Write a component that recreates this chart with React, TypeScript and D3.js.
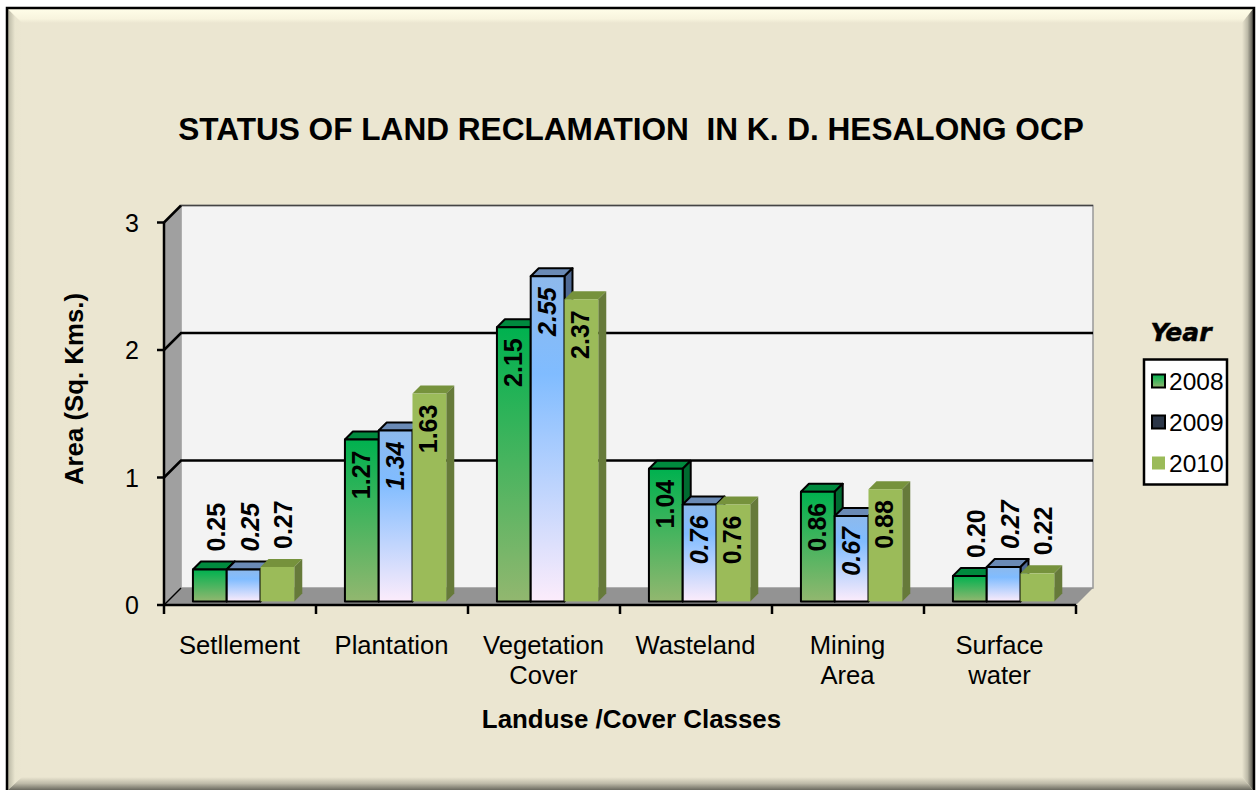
import React from "react";
import * as d3 from "d3";

const categories = [["Setllement"], ["Plantation"], ["Vegetation", "Cover"], ["Wasteland"], ["Mining", "Area"], ["Surface", "water"]];
const years = ["2008", "2009", "2010"];
const v2008 = [0.25, 1.27, 2.15, 1.04, 0.86, 0.2];
const v2009 = [0.25, 1.34, 2.55, 0.76, 0.67, 0.27];
const v2010 = [0.27, 1.63, 2.37, 0.76, 0.88, 0.22];
const seriesValues = [v2008, v2009, v2010];
const yTicks = [0, 1, 2, 3];

const FONT = "'Liberation Sans', Arial, sans-serif";
const W = 1256, H = 790;
const x0 = 164, x1 = 1076, yBase = 605, yTop = 222.5, depth = 17, barDepth = 8;

const x = d3.scaleBand<number>().domain(d3.range(categories.length)).range([x0, x1]).paddingInner(0).paddingOuter(0);
const inner = d3.scaleBand<number>().domain([0, 1, 2]).range([0, x.bandwidth()]).paddingInner(0).paddingOuter(0.75);
const y = d3.scaleLinear().domain([0, 3]).range([yBase, yTop]);
const barShift = 3.6;

const styles = [
  { front: "url(#g08)", top: "#008a3e", side: "#006b30", stroke: "#000", labelStyle: "normal" },
  { front: "url(#g09)", top: "#6a8ab5", side: "#4f6a94", stroke: "#000", labelStyle: "italic" },
  { front: "#9bbb59", top: "#76923c", side: "#667a3a", stroke: "none", labelStyle: "normal" },
];
const pts = (a: number[][]) => a.map((p) => p.join(",")).join(" ");

export default function App() {
  const ph = yBase - yTop;
  return (
    <svg width={W} height={H} viewBox={`0 0 ${W} ${H}`} style={{ position: "absolute", left: 0, top: 0, display: "block" }} fontFamily={FONT}>
      <defs>
        <linearGradient id="g08" x1="0" y1="0" x2="0" y2="1">
          <stop offset="0" stopColor="#00b14f" /><stop offset="1" stopColor="#92b76f" />
        </linearGradient>
        <linearGradient id="g09" x1="0" y1="0" x2="0" y2="1">
          <stop offset="0" stopColor="#8db9ec" /><stop offset="0.3" stopColor="#80bcff" /><stop offset="1" stopColor="#fcecfb" />
        </linearGradient>
        <linearGradient id="bl" x1="0" y1="0" x2="1" y2="0">
          <stop offset="0" stopColor="#b9b7a4" /><stop offset="0.5" stopColor="#e9e5cf" /><stop offset="1" stopColor="#ebe6d1" />
        </linearGradient>
        <linearGradient id="bt" x1="0" y1="0" x2="0" y2="1">
          <stop offset="0" stopColor="#fffde8" /><stop offset="0.7" stopColor="#f8f4de" /><stop offset="1" stopColor="#ebe6d1" />
        </linearGradient>
        <linearGradient id="br" x1="0" y1="0" x2="1" y2="0">
          <stop offset="0" stopColor="#ebe6d1" /><stop offset="0.5" stopColor="#bdbaa8" /><stop offset="1" stopColor="#55544c" />
        </linearGradient>
        <linearGradient id="bb" x1="0" y1="0" x2="0" y2="1">
          <stop offset="0" stopColor="#ebe6d1" /><stop offset="0.5" stopColor="#bdbaa8" /><stop offset="1" stopColor="#6b6a60" />
        </linearGradient>
      </defs>

      <rect x={0} y={0} width={W} height={H} fill="#fff" />
      <rect x={7} y={8} width={1247} height={782} fill="#ebe6d1" />
      <polygon points={pts([[8, 9], [22, 23], [22, 776], [8, 790]])} fill="url(#bl)" />
      <polygon points={pts([[8, 9], [1253, 9], [1242, 23], [22, 23]])} fill="url(#bt)" />
      <polygon points={pts([[1253, 9], [1253, 790], [1242, 777], [1242, 23]])} fill="url(#br)" />
      <polygon points={pts([[8, 790], [22, 777], [1242, 777], [1253, 790]])} fill="url(#bb)" />
      <path d="M7,790 V8 H1254 V790" fill="none" stroke="#000" strokeWidth={2.5} />

      <text x={631} y={140} textAnchor="middle" fontSize={31.6} fontWeight={700}>STATUS OF LAND RECLAMATION{"\u00a0\u00a0"}IN K. D. HESALONG OCP</text>

      {/* walls */}
      <rect x={x0 + depth} y={yTop - depth} width={x1 - x0} height={ph} fill="#f3f3f3" stroke="#999" strokeWidth={1.5} />
      <line x1={x0 + depth} x2={x1 + depth} y1={yTop - depth} y2={yTop - depth} stroke="#444" strokeWidth={1.5} />
      <polygon points={pts([[x0, yTop], [x0 + depth, yTop - depth], [x0 + depth, yBase - depth], [x0, yBase]])} fill="#a0a0a0" />
      <polygon points={pts([[x0, yBase], [x0 + depth, yBase - depth], [x1 + depth, yBase - depth], [x1, yBase]])} fill="#939393" />
      {yTicks.filter((t) => t > 0).map((t) => (
        <path key={t} d={`M${x0},${y(t)} L${x0 + depth},${y(t) - depth}` + (t < 3 ? ` H${x1 + depth}` : "")} fill="none" stroke="#000" strokeWidth={2.5} />
      ))}
      <path d={`M${x0},${yBase} L${x0 + depth},${yBase - depth}`} stroke="#000" strokeWidth={1.5} />

      {/* bars */}
      {categories.map((_, c) =>
        years.map((_, s) => {
          const v = seriesValues[s][c];
          const st = styles[s];
          const bx = x(c)! + inner(s)! + barShift;
          const bw = inner.bandwidth();
          const by = y(v) - barShift;
          const bb = yBase - barShift;
          const d = barDepth;
          return (
            <g key={`${c}-${s}`} stroke={st.stroke} strokeWidth={2} strokeLinejoin="round">
              <polygon points={pts([[bx, by], [bx + d, by - d], [bx + bw + d, by - d], [bx + bw, by]])} fill={st.top} />
              <polygon points={pts([[bx + bw, by], [bx + bw + d, by - d], [bx + bw + d, bb - d], [bx + bw, bb]])} fill={st.side} />
              <rect x={bx} y={by} width={bw} height={bb - by} fill={st.front} />
            </g>
          );
        })
      )}
      {/* labels */}
      {categories.map((_, c) =>
        years.map((_, s) => {
          const v = seriesValues[s][c];
          const st = styles[s];
          const cx = x(c)! + inner(s)! + barShift + inner.bandwidth() / 2;
          const by = y(v) - barShift;
          const outside = v < 0.3;
          const lx = cx + (outside ? 15 : 8);
          const ly = outside ? by - 18 : by + 11;
          return (
            <text key={`l${c}-${s}`} transform={`translate(${lx},${ly}) rotate(-90)`} textAnchor={outside ? "start" : "end"} fontSize={25} fontWeight={700} fontStyle={st.labelStyle}>
              {v.toFixed(2)}
            </text>
          );
        })
      )}

      {/* axes */}
      <g stroke="#000" strokeWidth={2.5} fill="none">
        <line x1={x0} x2={x0} y1={yTop} y2={yBase} />
        <line x1={x0} x2={x1} y1={yBase} y2={yBase} />
        {yTicks.map((t) => <line key={t} x1={x0 - 7} x2={x0} y1={y(t)} y2={y(t)} />)}
        {d3.range(categories.length + 1).map((i) => {
          const px = x0 + i * x.bandwidth();
          return <line key={i} x1={px} x2={px} y1={yBase} y2={yBase + 9} />;
        })}
      </g>
      {yTicks.map((t) => (
        <text key={t} x={139} y={y(t) + 9} textAnchor="end" fontSize={25}>{t}</text>
      ))}
      {categories.map((lines, c) => (
        <text key={c} textAnchor="middle" fontSize={25.6}>
          {lines.map((l, i) => (
            <tspan key={i} x={x(c)! + x.bandwidth() / 2 - 0.5} y={654 + i * 30}>{l}</tspan>
          ))}
        </text>
      ))}
      <text x={631.5} y={728} textAnchor="middle" fontSize={25.9} fontWeight={700}>Landuse /Cover Classes</text>
      <text transform="translate(83,389) rotate(-90)" textAnchor="middle" fontSize={25.8} fontWeight={700}>Area (Sq. Kms.)</text>

      {/* legend */}
      <text x={1181} y={341} textAnchor="middle" fontSize={25} fontWeight={700} fontStyle="italic" fontFamily="'DejaVu Sans', sans-serif" stroke="#000" strokeWidth={0.5}>Year</text>
      <rect x={1144} y={359.5} width={83} height={125} fill="#fff" stroke="#000" strokeWidth={2.5} />
      {years.map((yr, s) => {
        const cy = 381 + s * 41;
        const sw = s === 0 ? "url(#g08)" : s === 1 ? "#2b3648" : "#9bbb59";
        return (
          <g key={yr}>
            <rect x={1152} y={cy - 6.5} width={13} height={13} fill={sw} stroke={s === 2 ? "none" : "#000"} strokeWidth={2} />
            <text x={1169} y={cy + 9} fontSize={24.5}>{yr}</text>
          </g>
        );
      })}
    </svg>
  );
}
